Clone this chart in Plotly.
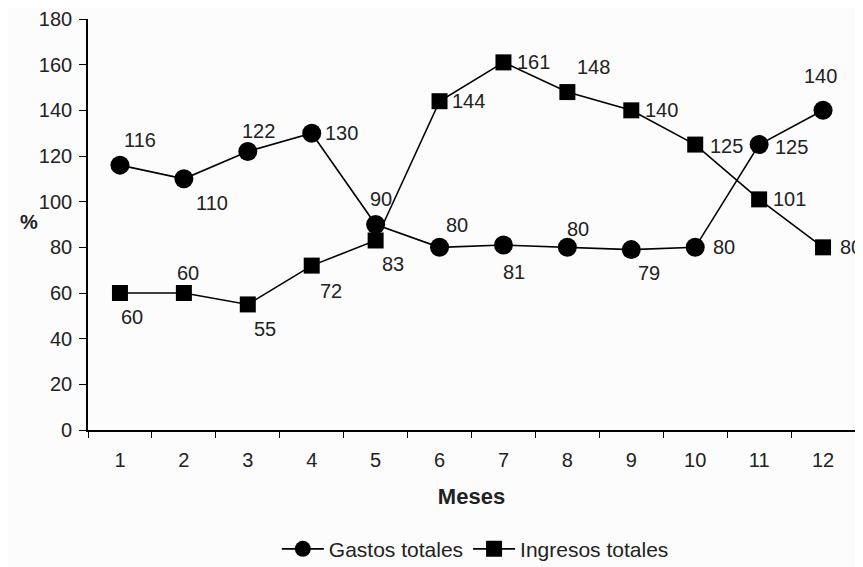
import plotly.graph_objects as go

meses = ["1", "2", "3", "4", "5", "6", "7", "8", "9", "10", "11", "12"]
gastos = [116, 110, 122, 130, 90, 80, 81, 80, 79, 80, 125, 140]
ingresos = [60, 60, 55, 72, 83, 144, 161, 148, 140, 125, 101, 80]

# label offsets in pixels (style only)
gastos_off = [(20, -25), (28, 24), (11, -20), (30, 0), (5, -26), (17, -22),
              (11, 27), (11, -18), (18, 23), (29, 0), (32, 2), (-3, -34)]
ingresos_off = [(12, 24), (4, -20), (17, 25), (19, 25), (17, 24), (29, 0),
                (30, 0), (26, -25), (30, 0), (31, 1), (30, 0), (28, 0)]

FONT = "Liberation Sans, Arial, sans-serif"
W, H = 855, 559
L, R, T, B = 80, 8, 11, 137
fig = go.Figure()
fig.add_trace(go.Scatter(x=meses, y=gastos, name="Gastos totales", mode="lines+markers",
                         line=dict(color="black", width=1.6),
                         marker=dict(symbol="circle", size=19, color="black")))
fig.add_trace(go.Scatter(x=meses, y=ingresos, name="Ingresos totales", mode="lines+markers",
                         line=dict(color="black", width=1.6),
                         marker=dict(symbol="square", size=16, color="black")))

ann = []
for vals, offs in ((gastos, gastos_off), (ingresos, ingresos_off)):
    for i, (v, (dx, dy)) in enumerate(zip(vals, offs)):
        ann.append(dict(x=i, y=v, xref="x", yref="y", text=str(v), showarrow=False,
                        xshift=dx, yshift=-dy,
                        font=dict(size=20, color="#222", family=FONT)))
ann.append(dict(x=(10 - L) / (W - L - R), y=(H - B - 214) / (H - T - B),
                xref="paper", yref="paper", text="<b>%</b>", showarrow=False,
                font=dict(size=20, color="#222", family=FONT)))

fig.update_layout(
    width=W, height=H,
    margin=dict(l=L, r=R, t=T, b=B, autoexpand=False),
    paper_bgcolor="#fcfcfc", plot_bgcolor="#fcfcfc",
    font=dict(family=FONT, size=20, color="#222"),
    annotations=ann,
    showlegend=True,
    legend=dict(orientation="h", x=0.505, xanchor="center", y=-0.29, yanchor="middle",
                font=dict(size=21), bgcolor="rgba(0,0,0,0)", itemwidth=42),
    xaxis=dict(type="category", tickson="boundaries", ticks="outside", ticklen=6,
               range=[-0.5, 11.5], automargin=False,
               tickcolor="black", showline=True, linecolor="black", linewidth=1.6,
               showgrid=False, zeroline=False, ticklabelstandoff=11,
               title=dict(text="<b>Meses</b>", font=dict(size=22), standoff=19)),
    yaxis=dict(range=[0, 180], dtick=20, ticks="outside", ticklen=7, tickcolor="black",
               automargin=False, ticklabeloverflow="allow",
               showline=True, linecolor="black", linewidth=1.6, showgrid=False,
               zeroline=False, ticklabelstandoff=3),
)
fig.write_html("out.html")
